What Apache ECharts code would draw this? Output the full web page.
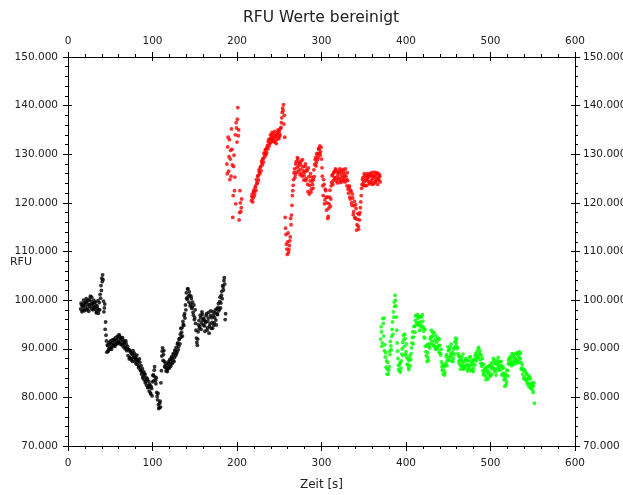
<!DOCTYPE html>
<html>
<head>
<meta charset="utf-8">
<script src="https://cdn.jsdelivr.net/npm/echarts@6/dist/echarts.min.js"></script>
<style>
html,body{margin:0;padding:0;background:#fff;}
#chart{width:623px;height:495px;}
</style>
</head>
<body>
<div id="chart"></div>
<script>
/*---------- Daten (Ablesung je Sekunde + halbe Sekunde versetzt) ----------*/
var blackStart = 15;
var blackValues = [
    98200, 99000, 97900, 98600, 99300, 98100, 98800, 99600, 98300, 99100, 100200, 98700, 99800, 100600, 99200, 98600, 99500, 98100, 98900, 97600, 98300, 97300,
    99500, 101200, 103000, 104500, 105200, 99800, 98400, 94000, 92800,
    89300, 90600, 89800, 90900, 90200, 91100, 90400, 91300, 90700, 91600, 90900, 91800, 91200, 92100, 91400, 92600, 91600, 92300, 91000, 91800, 90800, 91500, 90300, 91000, 89900,
    88600, 89800, 88200, 89300, 87700, 88800, 89600, 88300, 87400, 88500, 87900, 86800, 87700, 86400, 87200,
    85500, 84800, 85900, 84300, 83600, 84700, 83300, 82500, 83800, 82100, 81300, 82400, 80700, 81800,
    83200, 84600, 85600, 84200, 82800,
    81000, 79500, 78500, 77900, 79200,
    83000, 88500, 90200, 88800, 87400, 86200, 85400, 86600, 85800, 87000, 86300,
    87500, 86900, 88100, 87600, 88800, 88200, 89500, 90300, 89400, 91200, 90500, 92100,
    93000, 92400, 94300, 95600, 94800, 97200, 99000, 101500, 100200,
    102300, 99600, 101000, 99200, 100300, 98600, 97500, 99000, 96400,
    95200, 92200, 90700, 93500, 95800, 94600, 96400, 95300, 97100, 94900,
    96000, 93600, 95400, 97200, 94300, 96300, 93200, 95100, 97800, 96400, 94200, 96900, 95300, 97400, 95900, 98200,
    97000, 99300, 98100, 100600, 99400, 101800, 103000, 102100, 104600, 96000
];
var blackValues2 = [
    99400, 97600, 98900, 100000, 97800, 99500, 100300, 98000, 99900, 97700, 99000, 100800, 98200, 99300, 98000, 100000, 98500, 99600, 97400, 98800, 99900, 98000,
    98000, 100400, 102000, 103800, 104200, 97600, 99200, 95500, 91600,
    90800, 89500, 91300, 90000, 91600, 89900, 91800, 90600, 92000, 90500, 92300, 91000, 92600, 91200, 92900, 91000, 92000, 90800, 92300, 90400, 91300, 90000, 91600, 89600, 90500,
    89900, 87900, 89600, 88000, 89000, 87400, 88200, 89100, 88000, 86900, 88700, 87400, 86100, 87900, 85700,
    86500, 85200, 84000, 85300, 84900, 83000, 84100, 83800, 82000, 83300, 82700, 80900, 82200, 80300,
    84500, 83400, 86300, 83500, 84000,
    80200, 80800, 77700, 78800, 78000,
    85500, 89500, 87600, 89600, 86400, 87000, 86000, 85300, 87300, 86000, 87800,
    86400, 88300, 87000, 89000, 87400, 89700, 88600, 89000, 91000, 89800, 91900, 91000,
    94200, 93400, 92600, 95000, 96800, 96300, 98000, 100400, 102300,
    100800, 101700, 98800, 100800, 98300, 99600, 96900, 96000, 98000,
    93800, 91300, 92000, 94900, 94200, 96900, 94000, 97600, 95900, 96300,
    94700, 95600, 96800, 93800, 95700, 97500, 94600, 96800, 94200, 95400, 97600, 94800, 96400, 98000, 94900, 97200,
    98500, 97800, 99700, 98400, 101000, 100300, 102700, 104000, 103300, 97200
];

var redStart = 188;
var redValues = [
    128000, 131500, 126500, 133000, 129000, 125500, 131000, 117000, 127500, 122500, 134000, 136500, 132500, 139600, 135000, 118000, 120000, 119000,
    null, null, null, null, null, null, null, null, null, null, null,
    120500, 121800, 121000, 122600, 122000, 123500, 124800, 124000, 125600, 126800, 126000, 127500, 128600, 127800, 129200, 130300, 129500, 131000, 130400, 131800,
    132600, 131700, 133200, 132400, 133800, 132800, 134200, 133200, 132500, 133900, 133000, 134500, 133500, 134800, 133800, 135500, 137500, 139500, 140200, 138000,
    117000, 113500, 110500, 112000, 109800, 111200, 113000, 115500, 119500, 122500, 124800,
    127000, 125800, 128500, 127200, 129000, 126500, 128200, 126900, 128600, 125500, 127400, 124700, 126300, 128000, 125000, 126600, 122300, 125400, 123600, 126000, 122800, 124500, 123000,
    126800, 127900, 129300, 128300, 130200, 129400, 131000, 131700, 130500, 129000,
    125500, 121500, 123800, 120600, 122500, 118500, 121200, 117200, 119800, 122600, 120800,
    124200, 125800, 124600, 126400, 125000, 126800, 125300, 124100, 126200, 125100, 126600, 124500, 125700, 126900, 124800, 126000, 124300, 125500, 123500, 124600,
    122000, 123500, 120800, 122300, 119500, 121000, 118200, 120300, 116800, 118800, 115500, 117800, 114600, 116500, 119000, 121500,
    123800, 125200, 124200, 125600, 123500, 124800, 126000, 124500, 125300, 123900, 125700, 124600, 126200, 125000, 124000, 125500, 124300, 125900, 124800, 126000, 124700, 125500
];
var redValues2 = [
    126000, 133500, 129500, 124800, 130800, 135200, 127800, 121500, 129800, 125300, 119800, 135400, 137200, 133800, 116500, 122500, 118200, 120800,
    null, null, null, null, null, null, null, null, null, null, null,
    121300, 120200, 122300, 121400, 123200, 122600, 124100, 125500, 124700, 126300, 127200, 126600, 128200, 129000, 128400, 130000, 130900, 130000, 131400,
    131100, 133000, 132200, 134000, 133100, 134500, 133500, 132600, 134700, 133700, 132200, 134100, 135000, 133200, 134200, 135300, 136500, 138600, 139000, 136200, 133500,
    114800, 111500, 109400, 113800, 110400, 112200, 116800, 117500, 121500, 123600, 126200,
    125200, 128000, 126300, 129300, 127600, 128400, 125800, 127800, 126000, 128900, 126600, 125600, 127500, 124600, 126800, 123800, 127200, 121800, 124500, 122200, 125300, 123800, 124800,
    125400, 128900, 127600, 130000, 128900, 131200, 130200, 129800, 131400, 127200,
    123500, 124800, 119800, 122800, 121200, 120000, 116800, 118900, 121200, 119300, 123500,
    125600, 123800, 126200, 125200, 127000, 124500, 126400, 125800, 124800, 127000, 124200, 126200, 125200, 124400, 126600, 125400, 127000, 124800, 126200, 122800,
    123200, 121200, 122600, 120000, 121800, 117600, 119400, 117000, 119600, 114400, 116600, 115200, 117600, 118000, 120200, 123000,
    124800, 123600, 126000, 124600, 125400, 123600, 125200, 125800, 124200, 126100, 124200, 125400, 123800, 125600, 126300, 124400, 125100, 126200, 123800, 125200, 125800, 124300
];

var greenStart = 370;
var greenValues = [
    92000, 93500, 91200, 95200, 96300, 90800, 89200, 87500, 85800, 84800, 86300, 88800, 90600, 92500, 95500, 97600, 99600, 101000, 98800, 93800,
    89500, 86600, 85400, 87200, 86000, 88900, 91300, 92800, 90500, 92100, 89400, 88200, 86800, 86200, 87600, 86500, 89000, 91200, 93500, 92400,
    94600, 95800, 96800, 94900, 96200, 95000, 93800, 95500, 96600, 94300, 95700, 93600, 92200, 90500, 88600, 87400, 89200, 91000, 90200, 92400,
    93800, 91500, 92800, 90600, 91800, 89900, 91300, 90000, 92200, 89300, 90700, 88700, 87300, 85600, 84800, 86400, 85100, 87000, 88800, 87600,
    89600, 88200, 90400, 89000, 87500, 89300, 88000, 90200, 91500, 90600, 92000, 90300, 88500, 86900, 87800, 86500, 88200, 87100, 85800, 87400,
    86300, 88000, 86800, 85400, 87500, 86200, 88300, 86900, 85600, 87200, 86000, 87800, 88600, 87500, 89400, 88300, 90300, 89000, 87800, 88700,
    86900, 85500, 86800, 84600, 86000, 84200, 85600, 83800, 85200, 86400, 84500, 85900, 87200, 86000, 87600, 85800, 87000, 85400, 86800, 88200,
    86500, 87400, 85700, 86600, 84800, 86000, 83600, 82300, 84700, 83200, 85500, 86900, 88000, 86800, 87900, 86500, 88500, 87200, 88200, 86900,
    89000, 87600, 88800, 87300, 89400, 88000, 87200, 86000, 84800, 85800, 84200, 85400, 83800, 84900, 83200, 84400, 82600, 83800, 82000, 83000,
    81500, 82300, 78800
];
var greenValues2 = [
    94500, 90500, 96200, 92600, 89600, 88300, 86200, 84800, 87200, 85600, 89500, 91500, 89800, 94000, 93000, 96500, 98700, 100000, 96500, 91200,
    88000, 85800, 86800, 85200, 87500, 90000, 88600, 91800, 93000, 88800, 91000, 86800, 87800, 85700, 88500, 87800, 90200, 92300, 91000, 94600,
    93400, 96800, 95300, 97000, 95300, 96600, 94700, 96500, 94800, 97000, 94400, 92400, 94000, 89400, 90800, 88200, 87600, 90300, 92000, 91000,
    92400, 93400, 90800, 93300, 90200, 92600, 90400, 91800, 90600, 92000, 89000, 89900, 86300, 86800, 85600, 84600, 86600, 88300, 86500, 90400,
    87600, 89800, 88400, 91000, 88700, 87400, 90000, 88900, 92200, 91200, 90000, 89000, 87400, 88500, 85800, 87600, 86400, 88900, 86400, 86000,
    87700, 86600, 87600, 85800, 86500, 88300, 85500, 87600, 86700, 85300, 87800, 86700, 89000, 88400, 87900, 90000, 88600, 89600, 87000, 86400,
    88000, 84700, 85300, 85900, 83600, 85200, 86300, 84800, 86500, 84300, 86800, 84800, 86300, 88000, 85400, 86900, 84600, 87600, 86000, 87200,
    85600, 86300, 87400, 84600, 86200, 85000, 84300, 83800, 82600, 85600, 84400, 87600, 86900, 88400, 87300, 89000, 86800, 88900, 87600, 88000,
    87500, 89200, 87100, 88500, 87900, 89100, 85800, 86700, 85600, 83900, 85500, 83500, 84800, 82800, 83900, 82200, 84200, 81800, 82800, 82400,
    81000, 83000, null
];

var xTicks = [0, 100, 200, 300, 400, 500, 600];
var yTicks = [70000, 80000, 90000, 100000, 110000, 120000, 130000, 140000, 150000];

function toPoints(start, values) {
    var pts = [];
    values.forEach(function (v, i) {
        if (v !== null) pts.push([start + i, v]);
    });
    return pts;
}

function fmtDE(v) {
    return String(v).replace(/\B(?=(\d{3})+(?!\d))/g, '.');
}

var FONT = 'DejaVu Sans';
var chart = echarts.init(document.getElementById('chart'));

function xAx(pos, labels, inside) {
    return {
        type: 'value', position: pos,
        min: xTicks[0], max: xTicks[xTicks.length - 1], interval: 100,
        axisLine: { show: labels, onZero: false, lineStyle: { color: '#000', width: 1 } },
        axisTick: { show: true, inside: inside, length: inside ? 4 : 5, lineStyle: { color: '#000' } },
        minorTick: { show: labels, splitNumber: 5, length: 3, lineStyle: { color: '#000' } },
        axisLabel: { show: labels, margin: pos === 'bottom' ? 12 : 10, color: '#222', fontFamily: FONT, fontSize: 10.5 },
        splitLine: { show: false }
    };
}
function yAx(pos, labels, inside, margin) {
    return {
        type: 'value', position: pos,
        min: yTicks[0], max: yTicks[yTicks.length - 1], interval: 10000,
        axisLine: { show: labels, onZero: false, lineStyle: { color: '#000', width: 1 } },
        axisTick: { show: true, inside: inside, length: inside ? 4 : 5, lineStyle: { color: '#000' } },
        minorTick: { show: labels, splitNumber: 5, length: 3, lineStyle: { color: '#000' } },
        axisLabel: { show: labels, margin: margin, color: '#222', fontFamily: FONT, fontSize: 10.5, formatter: fmtDE },
        splitLine: { show: false }
    };
}

var xBottom = xAx('bottom', true, false);
xBottom.name = 'Zeit [s]';
xBottom.nameLocation = 'middle';
xBottom.nameGap = 33;
xBottom.nameMoveOverlap = false;
xBottom.nameTextStyle = { color: '#222', fontFamily: FONT, fontSize: 12 };

var yLeft = yAx('left', true, false, 10);
yLeft.name = 'RFU';
yLeft.nameLocation = 'middle';
yLeft.nameRotate = 0;
yLeft.nameGap = 36;
yLeft.nameMoveOverlap = false;
yLeft.nameTextStyle = { color: '#222', fontFamily: FONT, fontSize: 11, verticalAlign: 'top', padding: [5, 0, 0, 0] };

function scatter(name, color, data) {
    return {
        name: name, type: 'scatter', xAxisIndex: 0, yAxisIndex: 0,
        symbol: 'circle', symbolSize: 3.8,
        itemStyle: { color: color },
        emphasis: { disabled: true },
        data: data
    };
}

var option = {
    animation: false,
    backgroundColor: '#fff',
    title: {
        text: 'RFU Werte bereinigt',
        left: 238, top: 5,
        textStyle: { color: '#222', fontFamily: FONT, fontSize: 15.5, fontWeight: 'normal' }
    },
    grid: { left: 68, right: 48, top: 57, bottom: 49, outerBoundsMode: 'none', containLabel: false },
    xAxis: [xBottom, xAx('top', true, false), xAx('bottom', false, true), xAx('top', false, true)],
    yAxis: [yLeft, yAx('right', true, false, 8), yAx('left', false, true, 10), yAx('right', false, true, 8)],
    series: [
        scatter('schwarz', '#000000', toPoints(blackStart, blackValues).concat(toPoints(blackStart + 0.5, blackValues2))),
        scatter('rot', '#ff0000', toPoints(redStart, redValues).concat(toPoints(redStart + 0.5, redValues2))),
        scatter('grün', '#00ff00', toPoints(greenStart, greenValues).concat(toPoints(greenStart + 0.5, greenValues2)))
    ]
};

chart.setOption(option);
</script>
</body>
</html>
